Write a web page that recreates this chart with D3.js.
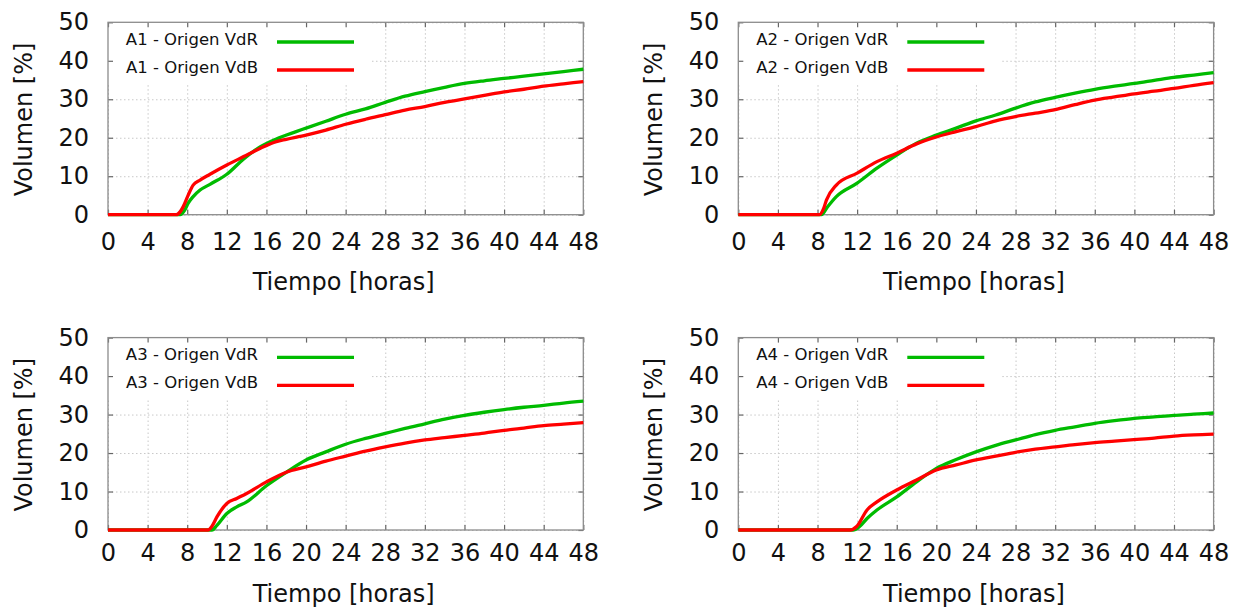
<!DOCTYPE html>
<html>
<head>
<meta charset="utf-8">
<script src="https://cdn.jsdelivr.net/npm/d3@7"></script>
<style>
  body { margin: 0; background: #fff; }
  svg { display: block; font-family: "DejaVu Sans", sans-serif; }
  .grid line { stroke: #c8c8c8; stroke-dasharray: 1.5,2.5; }
  .grid path { display: none; }
  .ax path { display: none; }
  .ax line { stroke: #666; stroke-width: 1.2; }
  .ax text { font-size: 24px; fill: #111; font-family: "DejaVu Sans", sans-serif; }
</style>
</head>
<body>
<div id="chart"></div>
<script>
'use strict';

// tick values
const xTicks = [0, 4, 8, 12, 16, 20, 24, 28, 32, 36, 40, 44, 48];
const yTicks = [0, 10, 20, 30, 40, 50];

// series names
const panelNames = ["A1", "A2", "A3", "A4"];
const seriesNames = ["Origen VdR", "Origen VdB"];

// [hora, volumen %]
const a1VdR = [[0,0],[7.3,0],[7.7,1.0],[8.1,3.0],[8.6,4.7],[9.3,6.4],[10.3,7.9],[12,10.5],[13.7,14.5],[15.4,17.7],[17,19.7],[19,21.6],[20,22.5],[22,24.3],[24,26.1],[26,27.5],[28,29.2],[30,30.8],[32,32],[34,33.1],[36,34.1],[38,34.8],[40,35.4],[42,36],[44,36.6],[46,37.2],[48,37.8]];
const a1VdB = [[0,0],[6.9,0],[7.3,0.8],[7.6,2.1],[8.1,5.1],[8.6,7.7],[9.3,9.0],[10.3,10.5],[12,12.9],[13.7,15.1],[15.4,17.3],[17,19.0],[18,19.6],[20,20.7],[22,22],[24,23.5],[26,24.8],[28,26],[30,27.2],[32,28.1],[34,29.2],[36,30.1],[38,31],[40,31.9],[42,32.6],[44,33.4],[46,34],[48,34.6]];

const a2VdR = [[0,0],[8.4,0],[9.0,2.0],[9.9,4.7],[12,8.2],[14,12.1],[16,15.5],[18,18.6],[20,20.7],[22,22.5],[24,24.4],[26,25.9],[28,27.7],[30,29.3],[32,30.5],[34,31.6],[36,32.6],[38,33.4],[40,34.1],[42,34.9],[44,35.7],[46,36.3],[48,36.9]];
const a2VdB = [[0,0],[8.2,0],[8.6,1.5],[8.9,3.8],[9.9,7.7],[12,10.8],[14,13.8],[16,16],[18,18.4],[20,20.2],[22,21.6],[24,22.9],[26,24.4],[28,25.5],[30,26.4],[32,27.3],[34,28.6],[36,29.8],[38,30.6],[40,31.4],[42,32.1],[44,32.8],[46,33.6],[48,34.3]];

const a3VdR = [[0,0],[10.5,0],[11,1.2],[12,4.3],[13,6.0],[14,7.3],[16,11.5],[18,15.0],[20,18.2],[22,20.3],[24,22.3],[26,23.8],[28,25.1],[30,26.4],[32,27.6],[34,28.8],[36,29.8],[38,30.6],[40,31.3],[42,31.9],[44,32.4],[46,33.0],[48,33.5]];
const a3VdB = [[0,0],[10.1,0],[10.5,1.0],[11,3.4],[12,6.9],[13,8.2],[14,9.5],[16,12.5],[18,15.0],[20,16.4],[22,17.9],[24,19.2],[26,20.5],[28,21.6],[30,22.6],[32,23.4],[34,24.0],[36,24.6],[38,25.2],[40,25.9],[42,26.5],[44,27.1],[46,27.5],[48,27.9]];

const a4VdR = [[0,0],[11.6,0],[12.2,0.8],[13,3.0],[14,5.2],[16,8.6],[18,12.5],[20,16.0],[22,18.3],[24,20.3],[26,22.0],[28,23.4],[30,24.8],[32,25.9],[34,26.8],[36,27.7],[38,28.4],[40,29.0],[42,29.4],[44,29.8],[46,30.1],[48,30.4]];
const a4VdB = [[0,0],[11.3,0],[11.95,0.9],[13,5.2],[14,7.3],[16,10.4],[18,13.0],[20,15.6],[22,16.9],[24,18.2],[26,19.2],[28,20.2],[30,21.0],[32,21.6],[34,22.2],[36,22.7],[38,23.1],[40,23.5],[42,23.9],[44,24.4],[46,24.7],[48,24.9]];

const panelData = [[a1VdR, a1VdB], [a2VdR, a2VdB], [a3VdR, a3VdB], [a4VdR, a4VdB]];
const lineColors = ["#00bb00", "#ff0000"];

(function() {
  const W = 1238, H = 609;
  const pw = 475.3, ph = 192.4;

  // plot box placement, per panel
  const layout = [
    {left: 108,   top: 22.3,  tickPad: 18,  titleGap: 75.3},
    {left: 738.3, top: 22.3,  tickPad: 18,  titleGap: 75.3},
    {left: 108,   top: 337.6, tickPad: 14,  titleGap: 71.7},
    {left: 738.3, top: 337.6, tickPad: 14,  titleGap: 71.7}
  ];

  const svg = d3.select('#chart').append('svg')
    .attr('width', W)
    .attr('height', H);

  const x = d3.scaleLinear().domain([0, 48]).range([0, pw]);
  const y = d3.scaleLinear().domain([0, 50]).range([ph, 0]);

  // smooth the read-off points a little
  const line = d3.line()
    .curve(d3.curveMonotoneX)
    .x(d => x(d[0]))
    .y(d => y(d[1]));

  panelNames.forEach((name, i) => {
    const L = layout[i];
    const g = svg.append('g').attr('transform', `translate(${L.left},${L.top})`);

    // grid
    g.append('g').attr('class', 'grid')
      .attr('transform', `translate(0,${ph})`)
      .call(d3.axisBottom(x).tickValues(xTicks).tickSize(-ph).tickFormat(''));
    g.append('g').attr('class', 'grid')
      .call(d3.axisLeft(y).tickValues(yTicks).tickSize(-pw).tickFormat(''));

    // legend background hides grid
    g.append('rect')
      .attr('x', 0).attr('y', 0)
      .attr('width', 262).attr('height', 61)
      .attr('fill', '#fff');

    // axes with inward ticks
    g.append('g').attr('class', 'ax')
      .attr('transform', `translate(0,${ph})`)
      .call(d3.axisBottom(x).tickValues(xTicks).tickSize(-5).tickPadding(L.tickPad));
    g.append('g').attr('class', 'ax')
      .call(d3.axisTop(x).tickValues(xTicks).tickSize(-5).tickFormat(''));
    g.append('g').attr('class', 'ax')
      .call(d3.axisLeft(y).tickValues(yTicks).tickSize(-5).tickPadding(19));
    g.append('g').attr('class', 'ax')
      .attr('transform', `translate(${pw},0)`)
      .call(d3.axisRight(y).tickValues(yTicks).tickSize(-5).tickFormat(''));

    // frame
    g.append('rect')
      .attr('width', pw).attr('height', ph)
      .attr('fill', 'none')
      .attr('stroke', '#8c8c8c')
      .attr('stroke-width', 1.3);

    // curves
    panelData[i].forEach((series, k) => {
      g.append('path')
        .datum(series)
        .attr('d', line)
        .attr('fill', 'none')
        .attr('stroke', lineColors[k])
        .attr('stroke-width', 3.3)
        .attr('stroke-linejoin', 'round');
    });

    // legend
    seriesNames.forEach((s, k) => {
      g.append('text')
        .attr('x', 150)
        .attr('y', 22.7 + k * 28)
        .attr('text-anchor', 'end')
        .style('font-size', '16.5px')
        .attr('fill', '#111')
        .text(name + ' - ' + s);
      g.append('line')
        .attr('x1', 169).attr('x2', 246)
        .attr('y1', 19.7 + k * 28).attr('y2', 19.7 + k * 28)
        .attr('stroke', lineColors[k])
        .attr('stroke-width', 3.3);
    });

    // axis titles
    g.append('text')
      .attr('x', pw / 2 - 2)
      .attr('y', ph + L.titleGap)
      .attr('text-anchor', 'middle')
      .style('font-size', '24px')
      .attr('fill', '#111')
      .text('Tiempo [horas]');

    g.append('text')
      .attr('transform', `translate(-76,${ph / 2 + 1})rotate(-90)`)
      .attr('text-anchor', 'middle')
      .style('font-size', '24px')
      .attr('fill', '#111')
      .text('Volumen [%]');
  });
})();
</script>
</body>
</html>
